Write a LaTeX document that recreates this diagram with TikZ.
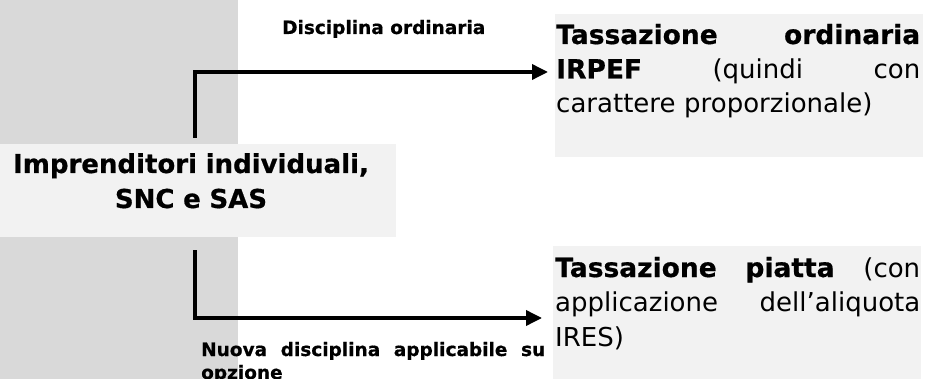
\documentclass[tikz,border=0pt]{standalone}
\usepackage{fontspec}
\setmainfont{DejaVu Sans}[BoldFeatures={FakeBold=0.6}]
\usetikzlibrary{arrows.meta,calc}
\definecolor{panelgray}{HTML}{D9D9D9}
\definecolor{boxgray}{HTML}{F2F2F2}
\newcommand\boldpart[1]{{\fontsize{26.5}{34.5}\selectfont\bfseries #1}}
\begin{document}
\begin{tikzpicture}[x=1pt,y=-1pt,
  conn/.style={line width=3.5pt, -{Triangle[length=16pt,width=15pt]}},
  box/.style={fill=boxgray, inner sep=0, draw=none, anchor=north west},
  bodytext/.style={inner sep=0, anchor=base west, align=left, font=\fontsize{26}{34.5}\selectfont},
  labeltext/.style={inner sep=0, anchor=base west, font=\fontsize{18.5}{23}\selectfont\bfseries},
]
\useasboundingbox (0,0) rectangle (925,379);
\fill[panelgray] (0,0) rectangle (238,379);
\node[box, minimum width=396pt, minimum height=93pt] (src) at (0,144) {};
\node[box, minimum width=368pt, minimum height=143pt] (t1) at (555,14) {};
\node[box, minimum width=368pt, minimum height=133pt] (t2) at (553,246) {};

\node[inner sep=0, anchor=base, text width=382pt, align=center,
      font=\fontsize{26}{35}\selectfont\bfseries] (srctxt) at (191,173)
      {Imprenditori individuali,\\SNC e SAS};

\node[bodytext, text width=364pt] (t1txt) at (556,44)
  {\boldpart{Tassazione}\hfill\boldpart{ordinaria}\\\boldpart{IRPEF}\hfill(quindi\hfill con\\carattere proporzionale)};
\node[bodytext, text width=365pt] (t2txt) at (555,277)
  {\boldpart{Tassazione}\hfill\boldpart{piatta}\hfill(con\\applicazione\hfill dell’aliquota\\IRES)};

\node[labeltext] (lab1) at (282,34) {Disciplina ordinaria};
\node[labeltext, text width=344pt, align=left] (lab2) at (201,356)
  {Nuova\hfill disciplina\hfill applicabile\hfill su\\opzione};

\draw[conn, shorten <=6pt] (src.north -| 195,0) |- ($(t1.west |- 0,72)+(-7pt,0)$);
\draw[conn, shorten <=13pt] (src.south -| 195,0) |- ($(t2.west |- 0,318)+(-11pt,0)$);
\end{tikzpicture}
\end{document}
